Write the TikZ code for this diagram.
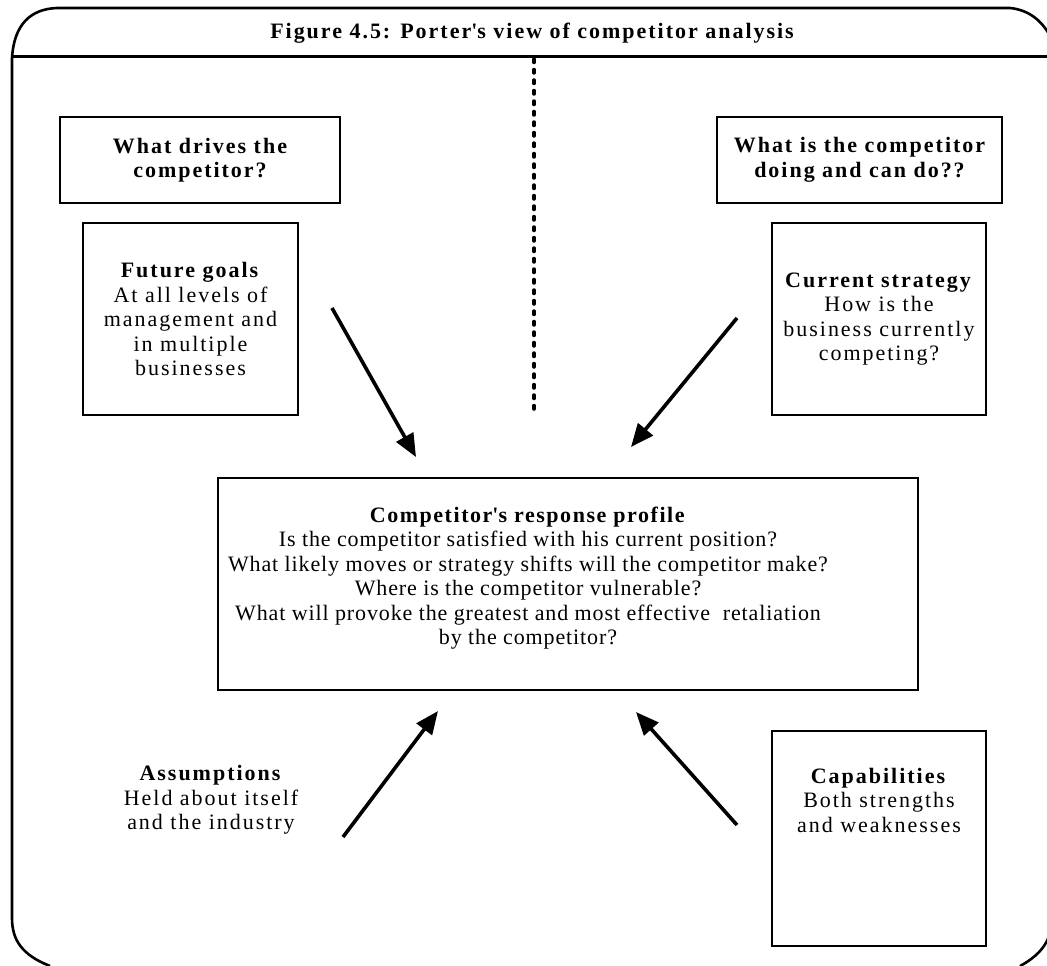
\documentclass[tikz,border=0pt]{standalone}
\usepackage{fontspec}
\setmainfont{Liberation Serif}[LetterSpace=9]
\newfontfamily\proffont{Liberation Serif}[LetterSpace=4, BoldFeatures={LetterSpace=7}]
\usetikzlibrary{arrows.meta,positioning,calc}

\begin{document}
\begin{tikzpicture}[x=1pt, y=-1pt,
    box/.style={
      draw, line width=2.4pt, align=center, inner sep=0pt,
      font=\fontsize{22}{24.5}\selectfont
    },
    txt/.style={align=center, inner sep=0pt, font=\fontsize{22}{24.5}\selectfont},
    arrow/.style={-{Triangle[length=23pt,width=19pt]}, line width=3.6pt}
  ]
  \useasboundingbox (0,0) rectangle (1047,966);

  \draw[line width=2.6pt] (50,966) .. controls (22,955) and (12,940) .. (12,918)
    -- (12,58) .. controls (14,25) and (30,9) .. (57,8) -- (1010,8)
    .. controls (1030,10) and (1042,22) .. (1049,34);
  \draw[line width=2.6pt] (1020,966) .. controls (1035,958) and (1045,948) .. (1049,936);
  \draw[line width=3pt] (12,57) -- (1047,57);

  \node[txt, font=\fontsize{22}{24.5}\selectfont\bfseries] (title) at (532,33)
    {Figure 4.5: Porter\textquotesingle s view of competitor analysis};

  \coordinate (divtop) at (534,59);
  \coordinate (divbot) at (534,411);
  \draw[line width=3.5pt, dash pattern=on 3.5pt off 7pt, line cap=round] (divtop) -- (divbot);

  \node[box, minimum width=280pt, minimum height=86pt, font=\fontsize{22}{24.5}\selectfont\bfseries] (drv) at (200,160)
    {What drives the\\competitor?};
  \node[box, minimum width=285pt, minimum height=86pt, font=\fontsize{22}{24.5}\selectfont\bfseries] (doing) at (859.5,160)
    {What is the competitor\\doing and can do??};

  \node[box, minimum width=215pt, minimum height=192pt] (goals) at (190.5,319)
    {\textbf{Future goals}\\At all levels of\\management and\\in multiple\\businesses};
  \node[box, minimum width=214pt, minimum height=192pt] (strat) at (879,319)
    {\textbf{Current strategy}\\How is the\\business currently\\competing?};

  \node[box, minimum width=700pt, minimum height=212pt] (prof) at (568,584) {};
  \node[txt, font=\fontsize{22}{24.5}\proffont] (proftxt) at (528,578)
    {\textbf{Competitor\textquotesingle s response profile}\\
     Is the competitor satisfied with his current position?\\
     What likely moves or strategy shifts will the competitor make?\\
     Where is the competitor vulnerable?\\
     What will provoke the greatest and most effective\ \ retaliation\\
     by the competitor?};

  \node[txt] (assum) at (211,800)
    {\textbf{Assumptions}\\Held about itself\\and the industry};
  \node[box, minimum width=214pt, minimum height=215pt] (capab) at (879,838.5) {};
  \node[txt] (captxt) at (879,800)
    {\textbf{Capabilities}\\Both strengths\\and weaknesses};

  \coordinate (gs) at (332,308);
  \coordinate (ge) at (416,457);
  \coordinate (ss) at (737,318);
  \coordinate (se) at (631,447);
  \coordinate (as) at (343,837);
  \coordinate (ae) at (438,711);
  \coordinate (cs) at (737,825);
  \coordinate (ce) at (636,712);

  \draw[arrow] (gs) -- (ge);
  \draw[arrow] (ss) -- (se);
  \draw[arrow] (as) -- (ae);
  \draw[arrow] (cs) -- (ce);
\end{tikzpicture}
\end{document}
